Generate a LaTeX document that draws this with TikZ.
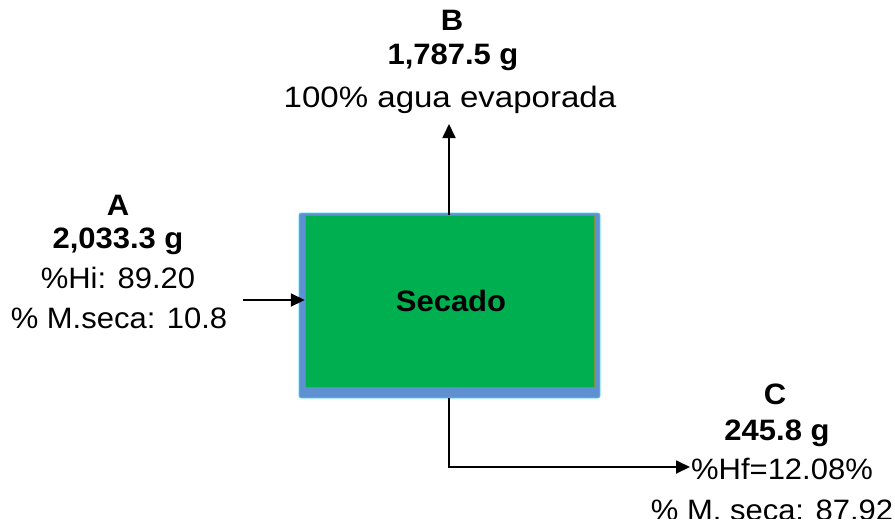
\documentclass[tikz,border=0pt]{standalone}
\usepackage{fontspec}
\setmainfont{Liberation Sans}[FakeStretch=1.05]
\newfontfamily\widefont{Liberation Sans}[FakeStretch=1.12]
\usetikzlibrary{arrows.meta}
\definecolor{procgreen}{RGB}{0,176,80}
\definecolor{procedge}{RGB}{120,150,60}
\definecolor{shadeblue}{RGB}{95,145,210}
\definecolor{shadeedge}{RGB}{60,220,240}
\begin{document}
\begin{tikzpicture}[x=1pt,y=-1pt,
  lbl/.style={inner sep=0pt,anchor=base,font=\fontsize{29.5}{36}\selectfont},
  lblb/.style={lbl,font=\fontsize{29.5}{36}\selectfont\bfseries},
  flow/.style={line width=1.8pt,-{Triangle[length=14pt,width=13pt]}}]
\useasboundingbox (0,0) rectangle (895,523);
\clip (0,0) rectangle (895,518);
% drying unit: blue backing plate and green face
\fill[shadeblue,draw=shadeedge,line width=0.8pt,rounded corners=2pt] (299,213) rectangle (600,398);
\fill[procgreen,draw=procedge,line width=0.8pt] (305,215) rectangle (594,387);
\node[inner sep=0pt,minimum width=289pt,minimum height=172pt] (dry) at (449.5,301) {};
\node[lblb] (drylbl) at (451,311) {Secado};
% feed A
\node[lblb] (a1) at (118,215) {A};
\node[lblb] (a2) at (118,248) {2,033.3 g};
\node[lbl]  (a3) at (118,288) {\%Hi: 89.20};
\node[lbl]  (a4) at (119,328) {\% M.seca: 10.8};
% evaporated water B
\node[lblb] (b1) at (452,30) {B};
\node[lblb] (b2) at (453,64) {1,787.5 g};
\node[lbl]  (b3) at (450,107) {\widefont 100\% agua evaporada};
% dried product C
\node[lblb] (c1) at (775,404) {C};
\node[lblb] (c2) at (777,440) {245.8 g};
\node[lbl]  (c3) at (782,479) {\%Hf=12.08\%};
\node[lbl]  (c4) at (772,520) {\% M. seca: 87.92};
% streams
\coordinate (ain) at (243,300);
\coordinate (bout) at (449,124);
\coordinate (cbend) at (449,467);
\coordinate (cout) at (690,467);
\draw[flow] (ain) -- (ain -| dry.west);
\draw[flow] (dry.north -| bout) -- (bout);
\draw[flow] (449,398) -- (cbend) -- (cout);
\end{tikzpicture}
\end{document}
